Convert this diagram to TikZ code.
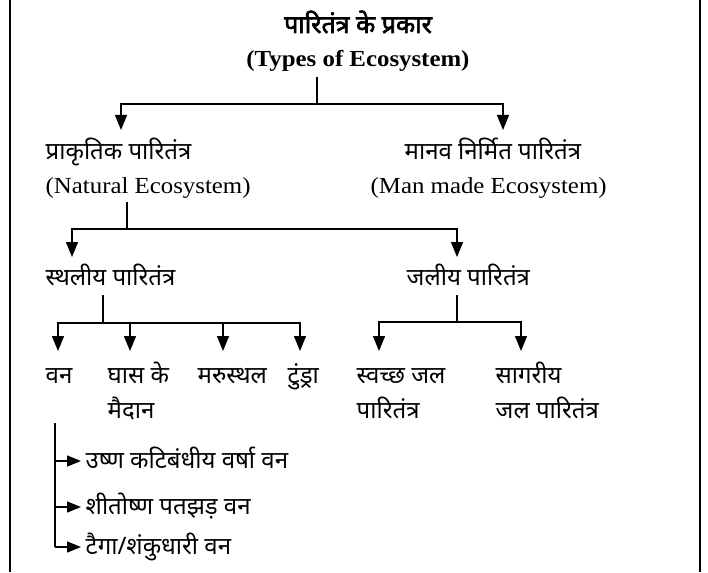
\documentclass[tikz,border=0pt]{standalone}
\usepackage{fontspec}
\setmainfont[FakeStretch=1.08]{Liberation Serif}
\newfontfamily\hin[Script=Devanagari]{Noto Sans}
\newfontfamily\hinb[Script=Devanagari,FakeBold=2.5]{Noto Sans}
\usetikzlibrary{arrows.meta}
\begin{document}
\begin{tikzpicture}[x=1pt,y=-1pt,line width=1.4pt,
  hi/.style={font=\hin\fontsize{24}{28}\selectfont, inner sep=0pt, anchor=base west},
  en/.style={font=\fontsize{23}{27}\selectfont, inner sep=0pt, anchor=base west},
  arr/.style={-{Triangle[length=15pt,width=12pt]}},
  sarr/.style={-{Triangle[length=14pt,width=11pt]}},
  frame/.style={line width=2pt}]
\useasboundingbox (0,0) rectangle (708,572);
\draw[frame] (10,0) -- (10,572);
\draw[frame] (700,0) -- (700,572);
% titles
\node[hi, font=\hinb\fontsize{25}{29}\selectfont, anchor=base] (t1) at (358,33) {पारितंत्र के प्रकार};
\node[en, font=\bfseries\fontsize{23}{27}\selectfont, anchor=base] (t2) at (358,67) {(Types of Ecosystem)};
% level 1
\node[hi] (nat) at (45,160) {प्राकृतिक पारितंत्र};
\node[en] (nate) at (45,193) {(Natural Ecosystem)};
\node[hi] (man) at (404,160) {मानव निर्मित पारितंत्र};
\node[en] (mane) at (370,193) {(Man made Ecosystem)};
% level 2
\node[hi] (thal) at (45,285) {स्थलीय पारितंत्र};
\node[hi] (jal) at (406,285) {जलीय पारितंत्र};
% level 3
\node[hi] (van) at (45,383) {वन};
\node[hi] (ghas) at (107,383) {घास के};
\node[hi] (ghas2) at (107,418) {मैदान};
\node[hi] (maru) at (197,383) {मरुस्थल};
\node[hi] (tun) at (287,383) {टुंड्रा};
\node[hi] (swa) at (356,383) {स्वच्छ जल};
\node[hi] (swa2) at (356,418) {पारितंत्र};
\node[hi] (sag) at (495,383) {सागरीय};
\node[hi] (sag2) at (495,418) {जल पारितंत्र};
% forests
\node[hi] (f1) at (85,468) {उष्ण कटिबंधीय वर्षा वन};
\node[hi] (f2) at (85,514) {शीतोष्ण पतझड़ वन};
\node[hi] (f3) at (85,554) {टैगा/शंकुधारी वन};
% coordinates
\coordinate (s1) at (317,77);
\coordinate (j1) at (317,104);
\coordinate (e1) at (121,130);
\coordinate (e2) at (503,130);
\coordinate (s2) at (127,202);
\coordinate (j2) at (127,229);
\coordinate (e3) at (72,257);
\coordinate (e4) at (457,257);
\coordinate (s3) at (103,295);
\coordinate (j3) at (103,323);
\coordinate (l1) at (58,351);
\coordinate (l2) at (130,351);
\coordinate (l3) at (223,351);
\coordinate (l4) at (300,351);
\coordinate (s4) at (457,295);
\coordinate (j4) at (457,322);
\coordinate (r1) at (379,351);
\coordinate (r2) at (521,351);
\coordinate (s5) at (55,423);
\coordinate (b1) at (55,461);
\coordinate (b2) at (55,507);
\coordinate (b3) at (55,547);
% connectors
\draw (s1) -- (j1);
\draw[arr] (j1) -| (e1);
\draw[arr] (j1) -| (e2);
\draw (s2) -- (j2);
\draw[arr] (j2) -| (e3);
\draw[arr] (j2) -| (e4);
\draw (s3) -- (j3);
\draw[arr] (j3) -| (l1);
\draw[arr] (j3) -| (l2);
\draw[arr] (j3) -| (l3);
\draw[arr] (j3) -| (l4);
\draw (s4) -- (j4);
\draw[arr] (j4) -| (r1);
\draw[arr] (j4) -| (r2);
\draw (s5) -- (b3);
\draw[sarr] (b1) -- ([xshift=-4pt]f1.west |- b1);
\draw[sarr] (b2) -- ([xshift=-4pt]f2.west |- b2);
\draw[sarr] (b3) -- ([xshift=-4pt]f3.west |- b3);
\end{tikzpicture}
\end{document}
